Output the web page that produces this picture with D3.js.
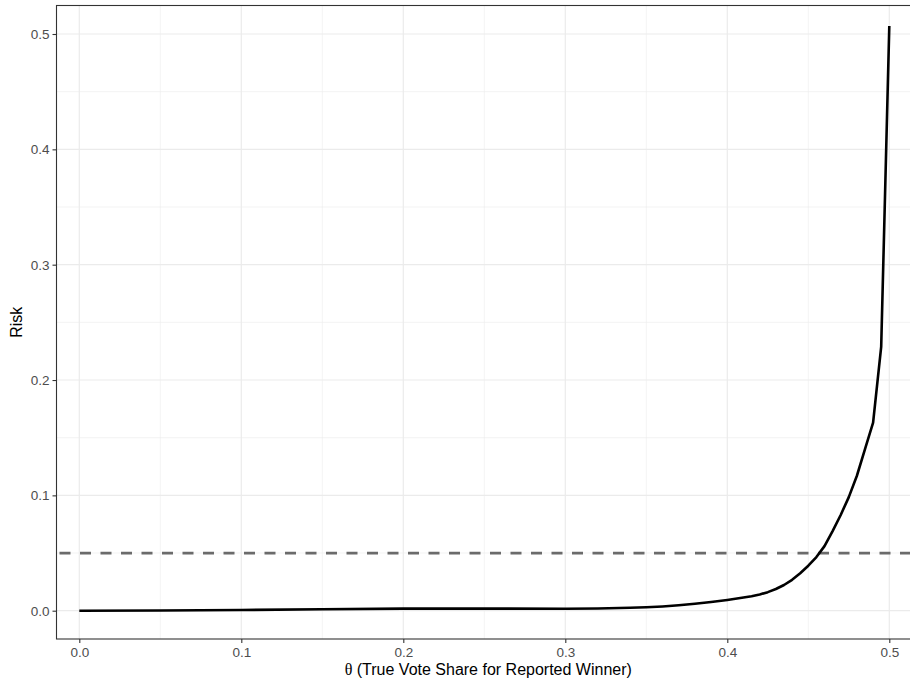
<!DOCTYPE html>
<html>
<head>
<meta charset="utf-8">
<script src="https://cdn.jsdelivr.net/npm/d3@7"></script>
<style>
  html, body { margin: 0; padding: 0; background: #fff; }
  svg { display: block; font-family: "Liberation Sans", Arial, sans-serif; }
</style>
</head>
<body>
<div id="chart"></div>
<script>
// Risk curve
const theta = [0.00, 0.05, 0.10, 0.15, 0.20, 0.25, 0.30, 0.32, 0.34, 0.35, 0.36, 0.37, 0.38, 0.39,
               0.40, 0.41, 0.415, 0.42, 0.425, 0.43, 0.435, 0.44, 0.445, 0.45, 0.455, 0.46, 0.465, 0.47,
               0.475, 0.48, 0.485, 0.49, 0.495, 0.50];
const risk  = [0.0000, 0.0002, 0.0006, 0.0013, 0.0018, 0.0018, 0.0017, 0.0019, 0.0025, 0.0030, 0.0037, 0.0047, 0.0060, 0.0075,
               0.0093, 0.0114, 0.0126, 0.0141, 0.0161, 0.0188, 0.0223, 0.0268, 0.0325, 0.0390, 0.0465, 0.0560, 0.0690, 0.0830,
               0.0985, 0.1170, 0.1400, 0.1630, 0.2290, 0.5070];
const threshold = 0.05;
const xTicks = [0, 0.1, 0.2, 0.3, 0.4, 0.5];
const xMinor = [0.05, 0.15, 0.25, 0.35, 0.45];
const yTicks = [0, 0.1, 0.2, 0.3, 0.4, 0.5];
const yMinor = [0.05, 0.15, 0.25, 0.35, 0.45];

const W = 910, H = 684;
// panel is cut off by the right edge in the reference
const panel = { left: 56.5, right: 920, top: 5.5, bottom: 639 };

const x = d3.scaleLinear().domain([0, 0.5]).range([79.3, 889.3]);
const y = d3.scaleLinear().domain([0, 0.5]).range([610.7, 34]);

const svg = d3.select('#chart').append('svg')
  .attr('width', W).attr('height', H);

const g = svg.append('g');

// Grid lines
g.selectAll('line.xminor').data(xMinor).join('line')
  .attr('x1', d => x(d)).attr('x2', d => x(d))
  .attr('y1', panel.top).attr('y2', panel.bottom)
  .attr('stroke', '#ebebeb').attr('stroke-width', 0.6);
g.selectAll('line.yminor').data(yMinor).join('line')
  .attr('y1', d => y(d)).attr('y2', d => y(d))
  .attr('x1', panel.left).attr('x2', panel.right)
  .attr('stroke', '#ebebeb').attr('stroke-width', 0.6);
g.selectAll('line.xmajor').data(xTicks).join('line')
  .attr('x1', d => x(d)).attr('x2', d => x(d))
  .attr('y1', panel.top).attr('y2', panel.bottom)
  .attr('stroke', '#ebebeb').attr('stroke-width', 1.2);
g.selectAll('line.ymajor').data(yTicks).join('line')
  .attr('y1', d => y(d)).attr('y2', d => y(d))
  .attr('x1', panel.left).attr('x2', panel.right)
  .attr('stroke', '#ebebeb').attr('stroke-width', 1.2);

// Threshold line
g.append('line')
  .attr('x1', panel.left).attr('x2', panel.right)
  .attr('y1', y(threshold)).attr('y2', y(threshold))
  .attr('stroke', '#6b6b6b').attr('stroke-width', 2.8)
  .attr('stroke-dasharray', '11,9.5')
  .attr('stroke-dashoffset', -3);

// Risk curve
const line = d3.line().x((d, i) => x(theta[i])).y(d => y(d));
g.append('path')
  .attr('d', line(risk))
  .attr('fill', 'none')
  .attr('stroke', '#000')
  .attr('stroke-width', 2.6)
  .attr('stroke-linejoin', 'round');

// Panel border
g.append('rect')
  .attr('x', panel.left).attr('y', panel.top)
  .attr('width', panel.right - panel.left).attr('height', panel.bottom - panel.top)
  .attr('fill', 'none').attr('stroke', '#333').attr('stroke-width', 1.1);

// Axes
const xAxis = d3.axisBottom(x).tickValues(xTicks).tickFormat(d3.format('.1f'))
  .tickSizeInner(4).tickSizeOuter(0).tickPadding(4);
const yAxis = d3.axisLeft(y).tickValues(yTicks).tickFormat(d3.format('.1f'))
  .tickSizeInner(4).tickSizeOuter(0).tickPadding(3);

const xa = svg.append('g').attr('transform', `translate(0,${panel.bottom})`).call(xAxis);
const ya = svg.append('g').attr('transform', `translate(${panel.left},0)`).call(yAxis);
[xa, ya].forEach(a => {
  a.select('.domain').remove();
  a.selectAll('line').attr('stroke', '#333').attr('stroke-width', 1.1);
  a.selectAll('text').attr('fill', '#4d4d4d').attr('font-size', 13.5)
    .attr('font-family', '"Liberation Sans", Arial, sans-serif');
});

// Axis titles
const xt = svg.append('text')
  .attr('x', (panel.left + panel.right) / 2).attr('y', 675)
  .attr('text-anchor', 'middle').attr('font-size', 16).attr('fill', '#000');
xt.append('tspan').attr('font-family', '"Liberation Serif", serif').text('θ');
xt.append('tspan').text(' (True Vote Share for Reported Winner)');

svg.append('text')
  .attr('transform', `translate(22,${(panel.top + panel.bottom) / 2}) rotate(-90)`)
  .attr('text-anchor', 'middle').attr('font-size', 16).attr('fill', '#000')
  .text('Risk');
</script>
</body>
</html>
